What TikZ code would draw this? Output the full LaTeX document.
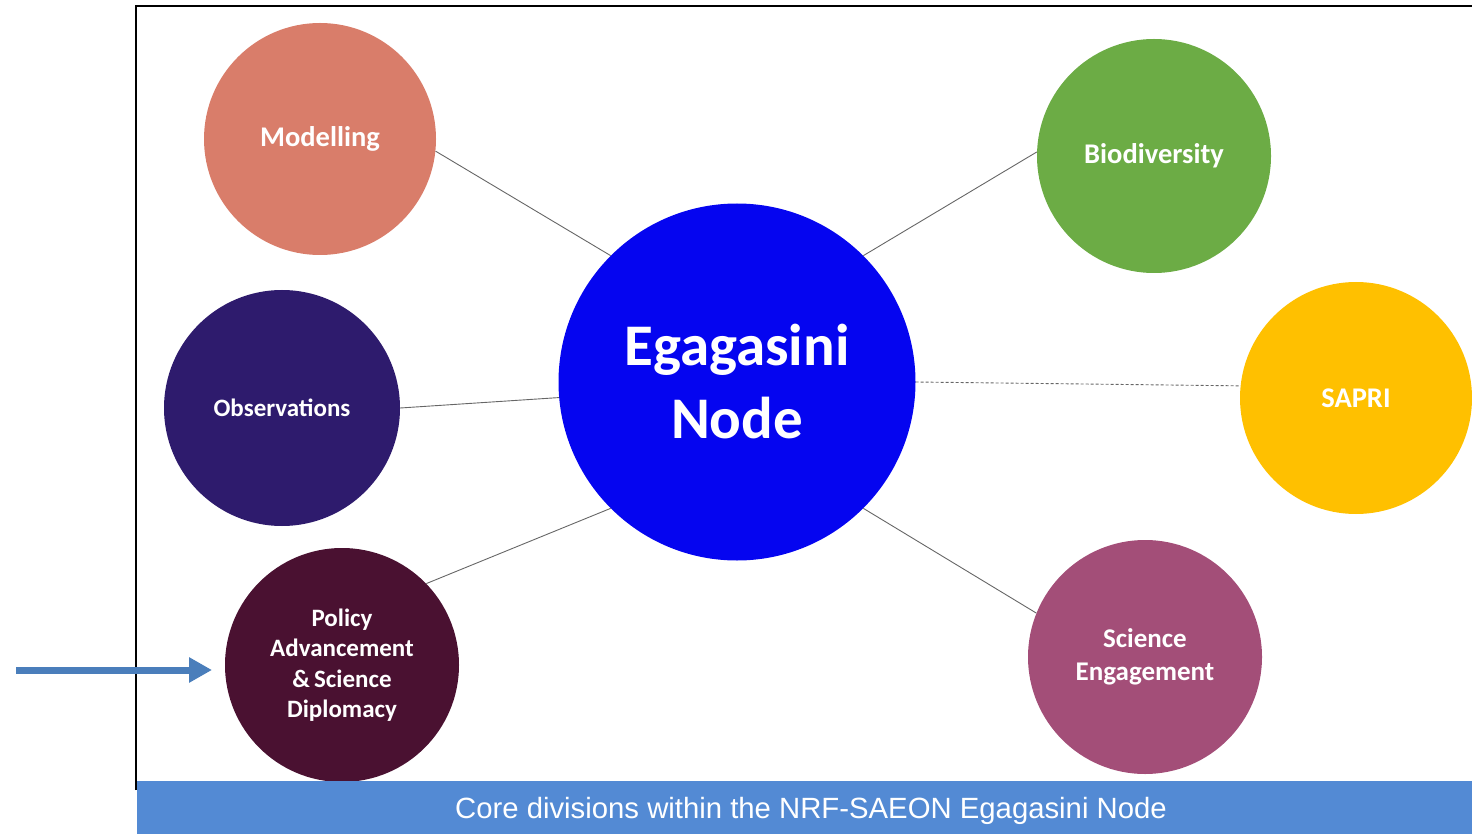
\documentclass[tikz,border=0pt]{standalone}
\usepackage{fontspec}
\setmainfont{Carlito}
\newfontfamily\capfont{Liberation Sans}
\usetikzlibrary{arrows.meta}
\definecolor{cModel}{HTML}{D97D6A}
\definecolor{cObs}{HTML}{2E1B6D}
\definecolor{cPol}{HTML}{4A1131}
\definecolor{cMain}{HTML}{0505F0}
\definecolor{cBio}{HTML}{6CAC45}
\definecolor{cSap}{HTML}{FFC000}
\definecolor{cSci}{HTML}{A34E78}
\definecolor{cBar}{HTML}{538AD4}
\definecolor{cArr}{HTML}{4A7EBB}
\tikzset{
  bubble/.style={circle, inner sep=0pt, minimum size=236pt, text=white, align=center,
     font=\bfseries\fontsize{28}{32}\selectfont},
  link/.style={draw=gray!80!black, line width=0.9pt},
  dlink/.style={link, dashed, dash pattern=on 3pt off 2pt},
}
\begin{document}
\begin{tikzpicture}[x=1pt,y=-1pt]
\useasboundingbox (0,0) rectangle (1472,834);
% frame
\draw[line width=2pt] (136,790) -- (136,6) -- (1480,6);
% nodes
\node[bubble, fill=cMain, minimum size=357pt, font=\bfseries\fontsize{59}{73}\selectfont] (main) at (737,382) {Egagasini\\Node};
\node[bubble, fill=cModel, minimum size=232pt, font=\bfseries\fontsize{28.5}{32}\selectfont] (model) at (320,139) {Modelling};
\node[bubble, fill=cObs, font=\bfseries\fontsize{25}{30}\selectfont] (obs) at (282,408) {Observations};
\node[bubble, fill=cPol, minimum size=234pt, font=\bfseries\fontsize{25}{30.5}\selectfont] (pol) at (342,665) {Policy\\Advancement\\\&\,Science\\Diplomacy};
\node[bubble, fill=cBio, minimum size=234pt, font=\bfseries\fontsize{28.5}{32}\selectfont] (bio) at (1154,156) {Biodiversity};
\node[bubble, fill=cSap, minimum size=232pt, font=\bfseries\fontsize{28.5}{32}\selectfont] (sap) at (1356,398) {SAPRI};
\node[bubble, fill=cSci, minimum size=234pt, font=\bfseries\fontsize{27}{33}\selectfont] (sci) at (1145,657) {Science\\Engagement};
% connectors
\draw[link] (model.-6) -- (main.135);
\draw[link] (obs.0) -- (main.185);
\draw[link] (pol.44) -- (main.225);
\draw[link] (bio.178) -- (main.45);
\draw[link] (sci.158) -- (main.-45);
\draw[dlink] (main.0) -- (sap.174);
% arrow
\coordinate (arrS) at (16,670);
\coordinate (arrE) at (212,670);
\draw[cArr, line width=7pt, -{Triangle[length=23pt,width=24pt]}] (arrS) -- (arrE);
% caption bar
\fill[cBar] (137,781) rectangle (1472,834);
\node[text=white, font=\capfont\fontsize{29.3}{32}\selectfont] (cap) at (811,811) {Core divisions within the NRF-SAEON Egagasini Node};
\end{tikzpicture}
\end{document}
